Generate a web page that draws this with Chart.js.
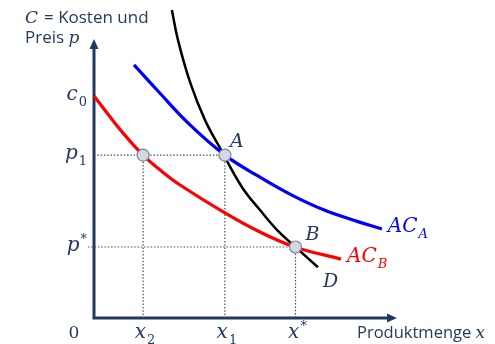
<!DOCTYPE html>
<html><head><meta charset="utf-8">
<script src="https://cdn.jsdelivr.net/npm/chart.js@4/dist/chart.umd.min.js"></script>
<style>html,body{margin:0;padding:0;background:#fff;overflow:hidden}</style>
</head><body>
<canvas id="c" width="495" height="344"></canvas>
<script>
// ---- data (abstract units: quantity x, cost/price y) ----
const acA_x = [1.32, 2.08, 3.17, 4.32, 5.41, 6.53, 7.62, 8.71, 9.50];
const acA_y = [8.98, 8.09, 6.85, 5.78, 5.04, 4.36, 3.82, 3.42, 3.16];
const acB_x = [0.00, 0.96, 1.62, 2.24, 2.84, 4.32, 5.48, 6.63, 8.15];
const acB_y = [7.88, 6.56, 5.78, 5.20, 4.72, 3.73, 3.05, 2.52, 2.09];
const d_x   = [2.57, 2.77, 3.17, 3.66, 4.16, 4.88, 5.48, 6.07, 6.65, 7.39];
const d_y   = [10.93, 9.87, 8.37, 7.03, 6.03, 4.65, 3.83, 3.09, 2.52, 1.80];
const xTickValues = [1.62, 4.32, 6.65];
const xTickMain   = ['x', 'x', 'x'];
const xTickSub    = ['2', '1', ''];
const xTickSup    = ['', '', '*'];
const yTickValues = [7.88, 5.78, 2.52];
const yTickMain   = ['c', 'p', 'p'];
const yTickSub    = ['0', '1', ''];
const yTickSup    = ['', '', '*'];
const markX = [1.62, 4.32, 6.65];   // x2 (on AC_B), A, B
const markY = [5.78, 5.78, 2.52];
const markNames = ['', 'A', 'B'];
const xMax = 10, yMax = 11, yAxisTop = 9.9;

const zip = (xs, ys) => xs.map((x, i) => ({x, y: ys[i]}));

const NAVY = '#1f3864', TXT = '#243a5e', DOT = '#3e5070';
const MATH = '"DejaVu Serif", "Liberation Serif", serif';
const SANS = '"Open Sans", "Noto Sans", sans-serif';

function drawMath(ctx, x, y, main, sub, sup, opt) {
  const size = opt.size || 19, ss = Math.round(size * 0.66);
  ctx.save();
  ctx.fillStyle = opt.color || TXT;
  ctx.textBaseline = 'alphabetic';
  ctx.textAlign = 'left';
  const mf = (opt.upright ? '' : 'italic ') + size + 'px ' + MATH;
  const sf = (opt.subItalic ? 'italic ' : '') + ss + 'px ' + MATH;
  ctx.font = mf; const w1 = ctx.measureText(main).width;
  ctx.font = sf; const w2 = Math.max(sub ? ctx.measureText(sub).width : 0, sup ? ctx.measureText(sup).width : 0);
  const total = w1 + (w2 ? w2 + 1 : 0);
  let x0 = x;
  if (opt.align === 'right') x0 = x - total;
  else if (opt.align === 'center') x0 = x - total / 2;
  ctx.font = mf; ctx.fillText(main, x0, y);
  ctx.font = sf;
  if (sub) ctx.fillText(sub, x0 + w1 + 1, y + size * 0.28);
  if (sup) ctx.fillText(sup, x0 + w1 + 1, y - size * 0.42);
  ctx.restore();
}

const decor = {
  id: 'decor',
  beforeDatasetsDraw(chart) {
    const {ctx, scales: {x, y}} = chart;
    const ox = x.getPixelForValue(0), oy = y.getPixelForValue(0);
    const ex = x.getPixelForValue(xMax), ty = y.getPixelForValue(yAxisTop);
    ctx.save();
    ctx.strokeStyle = NAVY; ctx.fillStyle = NAVY; ctx.lineWidth = 3; ctx.lineCap = 'butt';
    ctx.beginPath(); ctx.moveTo(ox, ty + 8); ctx.lineTo(ox, oy); ctx.lineTo(ex - 8, oy); ctx.stroke();
    ctx.beginPath(); ctx.moveTo(ox, ty); ctx.lineTo(ox - 4.5, ty + 10); ctx.lineTo(ox + 4.5, ty + 10); ctx.closePath(); ctx.fill();
    ctx.beginPath(); ctx.moveTo(ex, oy); ctx.lineTo(ex - 10, oy - 4.5); ctx.lineTo(ex - 10, oy + 4.5); ctx.closePath(); ctx.fill();
    ctx.restore();
  },
  afterDatasetsDraw(chart) {
    const {ctx, scales: {x, y}} = chart;
    const ox = x.getPixelForValue(0), oy = y.getPixelForValue(0);
    xTickValues.forEach((v, i) => drawMath(ctx, x.getPixelForValue(v) + 2, oy + 20, xTickMain[i], xTickSub[i], xTickSup[i], {align: 'center', size: 20}));
    yTickValues.forEach((v, i) => drawMath(ctx, ox - 7, y.getPixelForValue(v) + 4, yTickMain[i], yTickSub[i], yTickSup[i], {align: 'right', size: 20}));
    drawMath(ctx, ox - 20, oy + 20, '0', '', '', {align: 'center', size: 17, upright: true});
    drawMath(ctx, x.getPixelForValue(markX[1]) + 5, y.getPixelForValue(markY[1]) - 8, markNames[1], '', '', {size: 19});
    drawMath(ctx, x.getPixelForValue(markX[2]) + 10, y.getPixelForValue(markY[2]) - 7, markNames[2], '', '', {size: 19});
    const dl = d_x.length - 1, al = acA_x.length - 1, bl = acB_x.length - 1;
    drawMath(ctx, x.getPixelForValue(d_x[dl]) + 5, y.getPixelForValue(d_y[dl]) + 20, 'D', '', '', {size: 19});
    drawMath(ctx, x.getPixelForValue(acA_x[al]) + 6, y.getPixelForValue(acA_y[al]) + 3, 'AC', 'A', '', {size: 20, color: '#0000ff', subItalic: true});
    drawMath(ctx, x.getPixelForValue(acB_x[bl]) + 6, y.getPixelForValue(acB_y[bl]) + 3, 'AC', 'B', '', {size: 20, color: '#ff0000', subItalic: true});
    ctx.save();
    drawMath(ctx, 25, 23, 'C', '', '', {size: 17});
    ctx.fillStyle = TXT; ctx.textBaseline = 'alphabetic'; ctx.font = '17px ' + SANS;
    ctx.fillText('= Kosten und', 44, 23);
    ctx.fillText('Preis', 25, 43);
    const pw = ctx.measureText('Preis ').width;
    drawMath(ctx, 25 + pw, 43, 'p', '', '', {size: 17});
    ctx.fillStyle = TXT; ctx.font = '16.5px ' + SANS;
    ctx.fillText('Produktmenge', 357, oy + 20);
    const mw = ctx.measureText('Produktmenge ').width;
    drawMath(ctx, 357 + mw, oy + 20, 'x', '', '', {size: 17});
    ctx.restore();
  }
};

const guide = (pts) => ({type: 'line', data: pts, borderColor: DOT, borderWidth: 1.2, borderDash: [1.5, 1.8], pointRadius: 0, fill: false, tension: 0, clip: false});
const curve = (pts, color, w) => ({data: pts, borderColor: color, borderWidth: w, pointRadius: 0, tension: 0.4, clip: false});

new Chart(document.getElementById('c'), {
  type: 'line',
  data: {
    datasets: [
      {data: zip(markX, markY), showLine: false, pointRadius: 6, pointHoverRadius: 6,
       pointBackgroundColor: '#d3d8e2', pointBorderColor: '#7a889e', pointBorderWidth: 1.2, clip: false},
      curve(zip(acA_x, acA_y), '#0000ff', 3.2),
      curve(zip(acB_x, acB_y), '#ff0000', 3.2),
      curve(zip(d_x, d_y), '#000000', 2.5),
      guide([{x: 0, y: markY[0]}, {x: markX[1], y: markY[1]}]),
      guide([{x: markX[0], y: markY[0]}, {x: markX[0], y: 0}]),
      guide([{x: markX[1], y: markY[1]}, {x: markX[1], y: 0}]),
      guide([{x: -0.2, y: markY[2]}, {x: markX[2], y: markY[2]}]),
      guide([{x: markX[2], y: markY[2]}, {x: markX[2], y: 0}])
    ]
  },
  options: {
    responsive: false, animation: false, devicePixelRatio: 1,
    layout: {padding: {left: 94, right: 98, top: 8, bottom: 26}},
    scales: {
      x: {type: 'linear', min: 0, max: xMax, display: false},
      y: {type: 'linear', min: 0, max: yMax, display: false}
    },
    plugins: {legend: {display: false}, tooltip: {enabled: false}},
    events: []
  },
  plugins: [decor]
});
</script>
</body></html>
